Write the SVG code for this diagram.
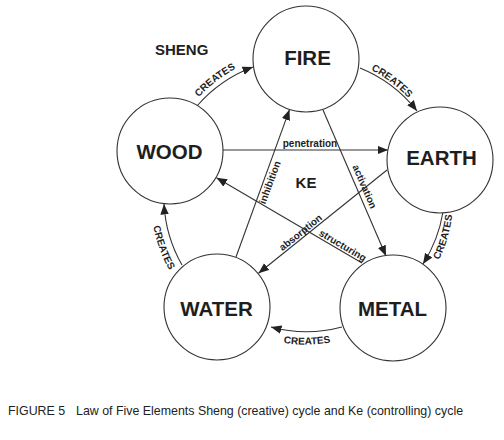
<svg xmlns="http://www.w3.org/2000/svg" width="504" height="440" viewBox="0 0 504 440">
<style>
.node circle{fill:#fff;stroke:#333;stroke-width:1.1}
.nl{font-family:"Liberation Sans",Arial,sans-serif;font-weight:bold;font-size:20.5px;fill:#1e1e1e;text-anchor:middle}
.cr{font-family:"Liberation Sans",Arial,sans-serif;font-weight:bold;font-size:10px;fill:#1e1e1e}
.ke{font-family:"Liberation Sans",Arial,sans-serif;font-weight:bold;font-size:10px;fill:#1e1e1e;text-anchor:middle}
.title{font-family:"Liberation Sans",Arial,sans-serif;font-weight:bold;fill:#1e1e1e}
.cap{font-family:"Liberation Sans",Arial,sans-serif;font-size:12.4px;fill:#222}
.conn path{fill:none;stroke:#333;stroke-width:1.1;marker-end:url(#ah)}
</style>
<defs>
<marker id="ah" markerUnits="userSpaceOnUse" markerWidth="12" markerHeight="9" refX="10.5" refY="4.25" orient="auto">
<path d="M0,0 L10.5,4.25 L0,8.5 z" fill="#222"/>
</marker>
<path id="lp1" d="M176.0,129.7 A145,145 0 0 1 272.9,54.6"/>
<path id="lp2" d="M334.9,56.7 A142.5,142.5 0 0 1 430.9,129.3"/>
<path id="lp3" d="M416.4,294.3 A148.5,148.5 0 0 0 451.8,173.9"/>
<path id="lp4" d="M244.1,331.5 A148.6,148.6 0 0 0 369.7,329.8"/>
<path id="lp5" d="M150.9,182.4 A154.7,154.7 0 0 0 195.5,305.3"/>
</defs>
<rect width="504" height="440" fill="#fff"/>

<g id="connectors" class="conn">
<path d="M197,106 A138,138 0 0 1 253,67"/>
<path d="M360,68 A138,138 0 0 1 417,111"/>
<path d="M443,212 A138,138 0 0 1 423,264"/>
<path d="M342,327 A138,138 0 0 1 271,327"/>
<path d="M182,265 A138,138 0 0 1 164,204"/>
<path d="M223,150 L388,150"/>
<path d="M323,110 L386,256"/>
<path d="M387,170 L258.5,273.2"/>
<path d="M362,263 L216.5,177.7"/>
<path d="M236,257 L289.5,109.6"/>
</g>

<g id="labels">
<text class="cr"><textPath href="#lp1" startOffset="50%" text-anchor="middle">CREATES</textPath></text>
<text class="cr"><textPath href="#lp2" startOffset="50%" text-anchor="middle">CREATES</textPath></text>
<text class="cr"><textPath href="#lp3" startOffset="50%" text-anchor="middle">CREATES</textPath></text>
<text class="cr"><textPath href="#lp4" startOffset="50%" text-anchor="middle">CREATES</textPath></text>
<text class="cr"><textPath href="#lp5" startOffset="50%" text-anchor="middle">CREATES</textPath></text>
<text class="ke" x="310" y="147">penetration</text>
<text class="ke" transform="translate(361.5,188) rotate(66.5)">activation</text>
<text class="ke" transform="translate(302.7,235.1) rotate(-38.8)">absorption</text>
<text class="ke" transform="translate(341,248.4) rotate(30.4)">structuring</text>
<text class="ke" transform="translate(273,183.6) rotate(-69.7)">inhibition</text>
<text class="title" x="155" y="55" font-size="15">SHENG</text>
<text class="title" x="306" y="188" font-size="15" text-anchor="middle">KE</text>
</g>

<g id="fire" class="node"><circle cx="306" cy="59" r="53"/><text class="nl" x="307.5" y="64.5">FIRE</text></g>
<g id="wood" class="node"><circle cx="170" cy="151" r="53"/><text class="nl" x="169.5" y="158.5">WOOD</text></g>
<g id="earth" class="node"><circle cx="440" cy="160" r="53"/><text class="nl" x="441.5" y="165">EARTH</text></g>
<g id="water" class="node"><circle cx="217" cy="307" r="53"/><text class="nl" x="216.5" y="315.5">WATER</text></g>
<g id="metal" class="node"><circle cx="393" cy="308" r="53"/><text class="nl" x="392.5" y="315.5">METAL</text></g>

<text class="cap" x="8" y="415">FIGURE 5<tspan x="76">Law of Five Elements Sheng (creative) cycle and Ke (controlling) cycle</tspan></text>
</svg>
